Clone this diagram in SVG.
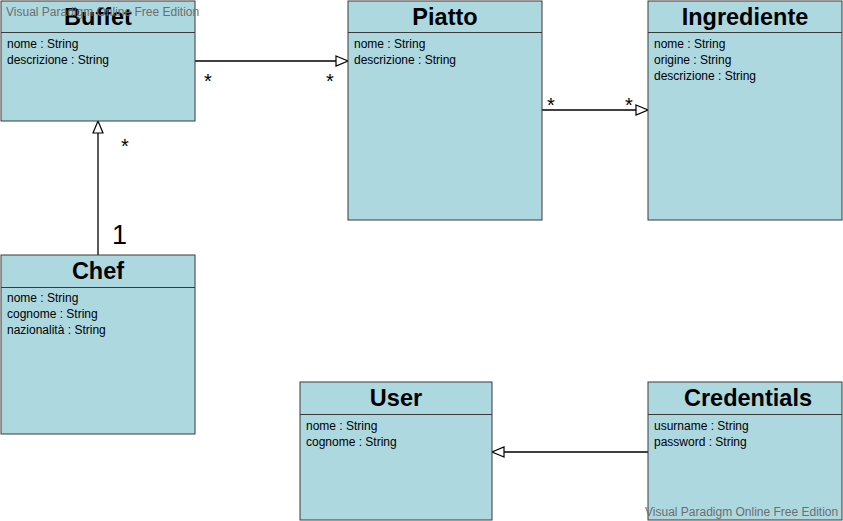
<svg xmlns="http://www.w3.org/2000/svg" width="843" height="521" viewBox="0 0 843 521">
<style>
.box{fill:#ADD8E0;stroke:#3a3a3a;stroke-width:1}
.div{stroke:#3a3a3a;stroke-width:1}
.title{font-family:"Liberation Sans",Arial,sans-serif;font-size:23.5px;font-weight:bold;fill:#000;text-anchor:middle}
.attr{font-family:"Liberation Sans",Arial,sans-serif;font-size:12px;fill:#000}
.conn{stroke:#000;stroke-width:1.3;fill:none}
.mult{font-family:"Liberation Sans",Arial,sans-serif;font-size:20px;fill:#000}
.wm{font-family:"Liberation Sans",Arial,sans-serif;font-size:12px;fill:#6e6e6e}
</style>
<defs>
<marker id="tri" viewBox="0 0 14 12" refX="13" refY="6" markerWidth="14" markerHeight="12" markerUnits="userSpaceOnUse" orient="auto">
<path d="M1,1 L13,6 L1,11 Z" fill="#fff" stroke="#000" stroke-width="1.2"/>
</marker>
</defs>
<rect width="843" height="521" fill="#fff"/>
<g id="connectors">
<line class="conn" x1="195" y1="61" x2="348" y2="61" marker-end="url(#tri)"/>
<text class="mult" x="204" y="88">*</text>
<text class="mult" x="326" y="88">*</text>
<line class="conn" x1="542" y1="110" x2="648" y2="110" marker-end="url(#tri)"/>
<text class="mult" x="547" y="112">*</text>
<text class="mult" x="625" y="112">*</text>
<line class="conn" x1="98" y1="255" x2="98" y2="121" marker-end="url(#tri)"/>
<text class="mult" x="121" y="153">*</text>
<text class="mult" x="112" y="244" style="font-size:27px">1</text>
<line class="conn" x1="648" y1="452" x2="492" y2="452" marker-end="url(#tri)"/>
</g>
<g id="Buffet">
<rect class="box" x="1" y="1" width="194" height="120"/>
<line class="div" x1="1" y1="32.5" x2="195" y2="32.5"/>
<text class="title" x="98" y="25">Buffet</text>
<text class="attr" x="7" y="48">nome : String</text>
<text class="attr" x="7" y="64">descrizione : String</text>
</g>
<g id="Piatto">
<rect class="box" x="348" y="1" width="194" height="219"/>
<line class="div" x1="348" y1="32.5" x2="542" y2="32.5"/>
<text class="title" x="445" y="25">Piatto</text>
<text class="attr" x="354" y="48">nome : String</text>
<text class="attr" x="354" y="64">descrizione : String</text>
</g>
<g id="Ingrediente">
<rect class="box" x="648" y="1" width="194" height="219"/>
<line class="div" x1="648" y1="32.5" x2="842" y2="32.5"/>
<text class="title" x="745" y="25">Ingrediente</text>
<text class="attr" x="654" y="48">nome : String</text>
<text class="attr" x="654" y="64">origine : String</text>
<text class="attr" x="654" y="80">descrizione : String</text>
</g>
<g id="Chef">
<rect class="box" x="1" y="255" width="194" height="179"/>
<line class="div" x1="1" y1="287.5" x2="195" y2="287.5"/>
<text class="title" x="98" y="279">Chef</text>
<text class="attr" x="7" y="302">nome : String</text>
<text class="attr" x="7" y="318">cognome : String</text>
<text class="attr" x="7" y="334">nazionalità : String</text>
</g>
<g id="User">
<rect class="box" x="300" y="382" width="192" height="138"/>
<line class="div" x1="300" y1="414.5" x2="492" y2="414.5"/>
<text class="title" x="396" y="406">User</text>
<text class="attr" x="306" y="430">nome : String</text>
<text class="attr" x="306" y="446">cognome : String</text>
</g>
<g id="Credentials">
<rect class="box" x="648" y="382" width="194" height="138"/>
<line class="div" x1="648" y1="414.5" x2="842" y2="414.5"/>
<text class="title" x="748" y="406">Credentials</text>
<text class="attr" x="654" y="430">usurname : String</text>
<text class="attr" x="654" y="446">password : String</text>
</g>
<g id="watermarks">
<text class="wm" x="6" y="16">Visual Paradigm Online Free Edition</text>
<text class="wm" x="645" y="516">Visual Paradigm Online Free Edition</text>
</g>
</svg>
